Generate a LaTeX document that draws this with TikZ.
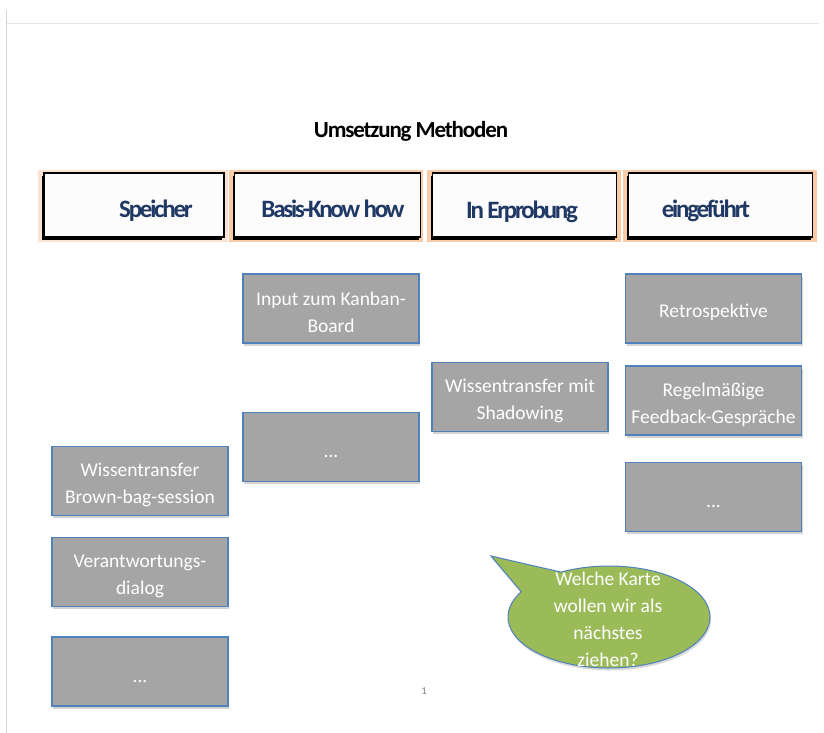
\documentclass[tikz,border=0pt]{standalone}
\usepackage{fontspec}
\setmainfont{Carlito}
\usetikzlibrary{shapes.callouts,shadows}
\definecolor{cardgray}{HTML}{A5A5A5}
\definecolor{cardblue}{HTML}{4F81BD}
\definecolor{peach}{HTML}{F9CBA7}
\definecolor{lightpeach}{HTML}{FCE2D0}
\definecolor{headblue}{HTML}{1F3864}
\definecolor{bubblegreen}{HTML}{9BBB59}
\definecolor{rulegray}{HTML}{E6E6E6}
\newcommand\cardtop{\rule{0pt}{22pt}}
\tikzset{
  card/.style={draw=cardblue, line width=1.2pt, fill=cardgray, minimum width=176pt, minimum height=69pt,
    inner sep=0pt, align=center, text=white, font=\fontsize{19.5}{27}\selectfont,
    drop shadow={opacity=0.35, shadow xshift=1pt, shadow yshift=-2.5pt}},
  headbg/.style={fill=#1, draw=none, minimum height=72pt, inner sep=0pt},
  headbox/.style={fill=white!98!gray, draw=black, line width=1.2pt, minimum height=64pt, inner sep=0pt,
    drop shadow={opacity=1, fill=black, shadow xshift=-2pt, shadow yshift=-2.5pt}},
  headtext/.style={anchor=base, text=headblue, inner sep=0pt,
    font=\fontsize{25}{30}\bfseries\addfontfeature{LetterSpace=-9}\selectfont},
}
\begin{document}
\begin{tikzpicture}[x=1pt,y=-1pt]
\useasboundingbox (0,0) rectangle (824,733);
% page rules
\coordinate (rl) at (7,24);
\coordinate (rr) at (819,24);
\coordinate (vt) at (6,10);
\coordinate (vb) at (6,733);
\draw[rulegray, line width=1pt] (rl) -- (rr);
\draw[rulegray!80!gray, line width=0.8pt] (vt) -- (vb);

% title
\node[anchor=base, inner sep=0pt, font=\fontsize{23}{28}\bfseries\addfontfeature{LetterSpace=-5}\selectfont] (title) at (411,138) {Umsetzung Methoden};

% header backgrounds
\node[headbg=lightpeach, minimum width=190pt] (bg1) at (133,206) {};
\node[headbg=peach, minimum width=194pt] (bg2) at (326,206) {};
\node[headbg=peach, minimum width=194pt] (bg3) at (524,206) {};
\node[headbg=peach, minimum width=194pt] (bg4) at (720,206) {};
% header boxes
\node[headbox, minimum width=180pt] (h1) at (134,205) {};
\node[headbox, minimum width=186pt] (h2) at (327.5,205) {};
\node[headbox, minimum width=184pt] (h3) at (524.5,205) {};
\node[headbox, minimum width=184pt] (h4) at (720.5,205) {};
\node[headtext] (t1) at (156,217) {Speicher};
\node[headtext] (t2) at (333,217) {Basis-Know how};
\node[headtext] (t3) at (522,218) {In Erprobung};
\node[headtext] (t4) at (706,217) {eingeführt};

% cards
\node[card] (kanban) at (331,308.5) {\cardtop Input zum Kanban-\\Board};
\node[card] (bdots) at (331,447) {\cardtop...};
\node[card] (brown) at (140,481) {\cardtop Wissentransfer\\Brown-bag-session};
\node[card] (verant) at (140,572) {\cardtop Verantwortungs-\\dialog};
\node[card] (sdots) at (140,671.5) {\cardtop...};
\node[card] (shadow) at (520,397) {\cardtop Wissentransfer mit\\Shadowing};
\node[card] (retro) at (713.5,308.5) {\cardtop Retrospektive};
\node[card] (regel) at (713.5,400.5) {\cardtop Regelmäßige\\Feedback-Gespräche};
\node[card] (edots) at (713.5,497) {\cardtop...};

% speech bubble
\node[ellipse callout, draw=cardblue, line width=1pt, fill=bubblegreen, inner sep=0pt,
  minimum width=202pt, minimum height=102pt,
  callout absolute pointer={(491,556)}, callout pointer arc=32,
  drop shadow={opacity=0.3, shadow xshift=1pt, shadow yshift=-2.5pt}] (bubble) at (609,617) {};
\node[align=center, text=white, inner sep=0pt, font=\fontsize{19.5}{27}\selectfont] (btext) at (608,619)
  {Welche Karte\\wollen wir als\\nächstes\\ziehen?};

% page number
\node[text=gray, inner sep=0pt, font=\fontsize{10.5}{12}\selectfont] (pnum) at (424,691) {1};
\end{tikzpicture}
\end{document}
